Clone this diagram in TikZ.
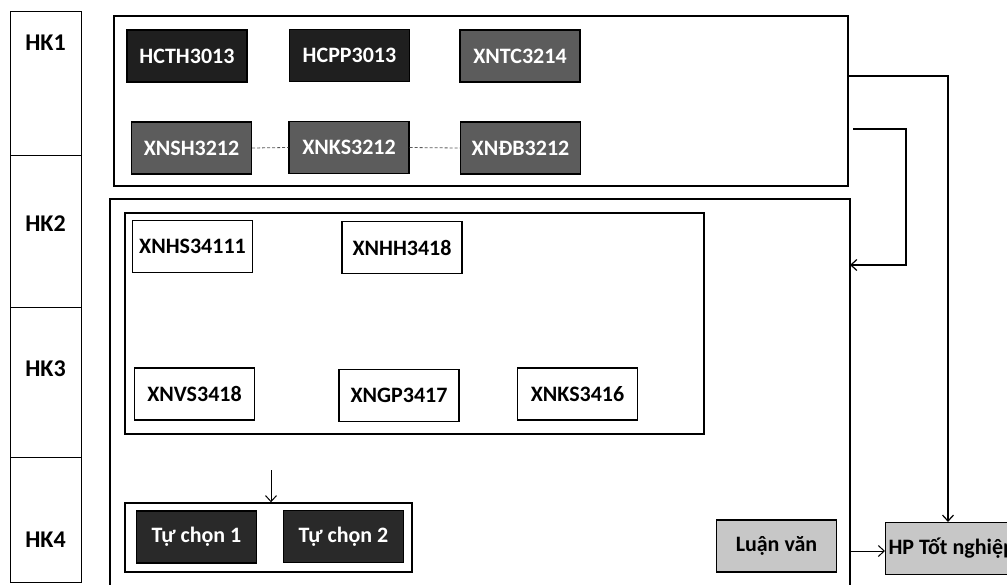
\documentclass[tikz,border=0pt]{standalone}
\usepackage{fontspec}
\setmainfont{Carlito}
\usetikzlibrary{arrows.meta}
\tikzset{
  course/.style={draw=black,line width=1.1pt,minimum width=120pt,minimum height=52pt,inner sep=2pt},
  darkcourse/.style={course,fill=black!88,text=white},
  midcourse/.style={course,fill=black!64,text=white},
  plaincourse/.style={course,fill=white},
  thesis/.style={course,fill=black!22},
  frame/.style={draw=black,line width=1.4pt,inner sep=0pt},
  conn/.style={line width=1.2pt,-{Straight Barb[length=6pt,width=11pt]}},
}
\begin{document}
\begin{tikzpicture}[x=1pt,y=-1pt,every node/.style={font=\fontsize{22pt}{26pt}\selectfont\bfseries}]
\useasboundingbox (0,0) rectangle (1007,584);
% semester column
\foreach \k/\ya/\yb/\yl in {1/11/155/43,2/155/307/224,3/307/457/369,4/457/582/540}{
  \draw[line width=1pt] (10,\ya) rectangle (81,\yb);
  \node[font=\fontsize{24pt}{28pt}\selectfont\bfseries] (hk\k) at (45.5,\yl) {HK\k};
}
% frames
\node[frame,minimum width=734pt,minimum height=170pt] (sem1) at (481,101) {};
\node[frame,minimum width=740pt,minimum height=440pt] (rest) at (480,419) {};
\node[frame,line width=1.1pt,minimum width=579pt,minimum height=221pt] (core) at (414.5,323.5) {};
\node[frame,minimum width=287pt,minimum height=69pt] (elect) at (268.5,537.5) {};
% HK1 courses
\node[darkcourse] (hcth) at (187,56) {HCTH3013};
\node[darkcourse] (hcpp) at (349.5,55.5) {HCPP3013};
\node[midcourse] (xntc) at (520,56) {XNTC3214};
\node[midcourse] (xnsh) at (191.5,148) {XNSH3212};
\node[midcourse] (xnks) at (349,147.5) {XNKS3212};
\node[midcourse] (xndb) at (520.5,148) {XNĐB3212};
\draw[densely dashed,black!65,line width=0.8pt] (xnsh.east) -- (xnks.west);
\draw[densely dashed,black!65,line width=0.8pt] (xnks.east) -- (xndb.west);
% HK2, HK3 courses
\node[plaincourse] (xnhs) at (192.5,246.5) {XNHS34111};
\node[plaincourse] (xnhh) at (402,247.5) {XNHH3418};
\node[plaincourse] (xnvs) at (194.5,394) {XNVS3418};
\node[plaincourse] (xngp) at (399,395.5) {XNGP3417};
\node[plaincourse] (xnksb) at (577.5,394) {XNKS3416};
% HK4
\node[darkcourse,fill=black!84] (tc1) at (196.5,537) {Tự chọn 1};
\node[darkcourse,fill=black!84] (tc2) at (343.5,536.5) {Tự chọn 2};
\coordinate (electin) at (271,470);
\draw[conn,line width=1pt] (electin) -- (electin |- elect.north);
\node[thesis] (lv) at (776.5,546) {Luận văn};
\node[thesis,anchor=west,minimum width=125pt,inner xsep=3pt] (hp) at (885,548.5) {HP Tốt nghiệp};
% connectors
\coordinate (gradout) at (848,76);
\coordinate (gradturn) at (948,76);
\draw[conn] (gradout) -- (gradturn) -- (gradturn |- hp.north);
\coordinate (fbstart) at (853,129);
\coordinate (fbturn) at (906,129);
\coordinate (fbin) at (850,265);
\draw[conn] (fbstart) -- (fbturn) |- (fbin);
\coordinate (lvout) at (850,551);
\draw[conn,line width=1pt] (lvout) -- (lvout -| hp.west);
\end{tikzpicture}
\end{document}
